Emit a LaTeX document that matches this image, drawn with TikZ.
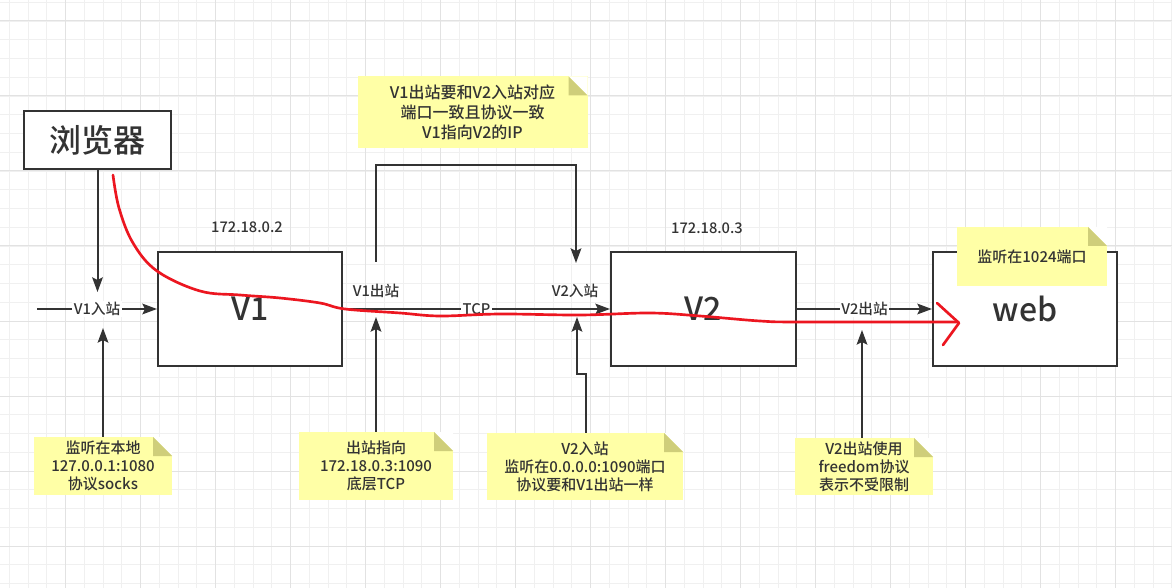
\documentclass[tikz,border=0pt]{standalone}
\usepackage{fontspec}
\setmainfont{Noto Sans CJK SC Medium}
\usepackage{tikz}
\usetikzlibrary{
  arrows.meta,
  positioning
}
\definecolor{InkGray}{RGB}{51, 51, 51}
\definecolor{NoteYellow}{RGB}{255, 255, 166}
\definecolor{NoteFold}{RGB}{207, 206, 122}
\definecolor{GridMinor}{RGB}{240, 240, 240}
\definecolor{GridMajor}{RGB}{226, 226, 226}
\definecolor{TraceRed}{RGB}{236, 22, 32}
\tikzset{
    hostbox/.style={draw=InkGray, fill=white, line width=1.5pt, text=InkGray, font=\fontsize{24}{28}\selectfont},
    notebox/.style={fill=NoteYellow, text=InkGray, align=center, inner sep=2pt,
        font=\fontsize{11.25}{13.5}\selectfont,
        path picture={
            \fill[white] ([xshift=-14.25pt]path picture bounding box.north east) -- (path picture bounding box.north east) -- ([yshift=-14.25pt]path picture bounding box.north east) -- cycle;
            \fill[NoteFold] ([xshift=-14.25pt]path picture bounding box.north east) -- ([xshift=-14.25pt, yshift=-14.25pt]path picture bounding box.north east) -- ([yshift=-14.25pt]path picture bounding box.north east) -- cycle;
        }},
    tag/.style={text=InkGray, inner sep=1pt, font=\fontsize{11}{13}\selectfont},
    linktag/.style={tag, fill=white},
    flow/.style={draw=InkGray, line width=1.5pt, -{Stealth[length=11pt, width=8pt, inset=2pt]}},
    trace/.style={draw=TraceRed, line width=2pt, line cap=round, line join=round}
}

\begin{document}
\begin{tikzpicture}[x=0.75pt, y=-0.75pt]
            \fill[white] (0,0) rectangle (1172,588);
            \useasboundingbox (0,0) rectangle (1172,588);
            \begin{scope}
                \clip (0,0) rectangle (1172,588);
                \begin{scope}[shift={(9.3,2.3)}]
                    \draw[GridMinor, line width=0.75pt, step=14.0625pt] (-40,620) grid (1200,-40);
                \end{scope}
                \begin{scope}[shift={(-9.3,21)}]
                    \draw[GridMajor, line width=0.75pt, step=56.25pt] (-40,620) grid (1200,-80);
                \end{scope}
            \end{scope}

            \node[hostbox, minimum width=110.25pt, minimum height=43.5pt] (browser) at (97.5,140) {浏览器};
            \node[hostbox, minimum width=138pt, minimum height=84.75pt] (v1) at (250,309) {V1};
            \node[hostbox, minimum width=138.75pt, minimum height=85.5pt] (v2) at (703.5,309) {V2};
            \node[hostbox, minimum width=138pt, minimum height=85.5pt] (web) at (1025,309) {web};

            \node[tag] (v1ip) at (247,227) {172.18.0.2};
            \node[tag] (v2ip) at (707,228) {172.18.0.3};
            \node[tag] (v1outLbl) at (376,291) {V1出站};
            \node[tag] (v2inLbl) at (575,291) {V2入站};

            \coordinate (v1inStart) at (37,309);
            \coordinate (browserTip) at (97.5,292);
            \coordinate (linkStart) at (376,262);
            \coordinate (linkTop) at (476,165);
            \coordinate (linkEnd) at (576,263);
            \coordinate (socksTip) at (103,328);
            \coordinate (v1outTip) at (376,317);
            \coordinate (v2inBend) at (577,374);
            \coordinate (v2inTip) at (577,317);
            \coordinate (v2outTip) at (862,330);

            \draw[flow] (v1inStart) -- node[linktag] {V1入站} (v1.west);
            \draw[flow] (v1.east) -- node[linktag] {TCP} (v2.west);
            \draw[flow] (v2.east) -- node[linktag] {V2出站} (web.west);
            \draw[flow] (browser.south) -- (browserTip);
            \draw[flow] (linkStart) |- (linkTop) -| (linkEnd);

            \node[notebox, minimum width=103.5pt, minimum height=43.5pt] (socksNote) at (103,466) {监听在本地\\127.0.0.1:1080\\协议socks};
            \node[notebox, minimum width=115.5pt, minimum height=51pt] (v1outNote) at (376,466) {出站指向\\172.18.0.3:1090\\底层TCP};
            \node[notebox, minimum width=147pt, minimum height=50.25pt] (v2inNote) at (585,466.5) {V2入站\\监听在0.0.0.0:1090端口\\协议要和V1出站一样};
            \node[notebox, minimum width=103.5pt, minimum height=42.75pt] (v2outNote) at (864,466.5) {V2出站使用\\freedom协议\\表示不受限制};
            \node[notebox, minimum width=172.5pt, minimum height=54pt, font=\fontsize{12}{15}\selectfont] (linkNote) at (472.5,112.5) {V1出站要和V2入站对应\\端口一致且协议一致\\V1指向V2的IP};
            \node[notebox, minimum width=112.5pt, minimum height=44.25pt] (webNote) at (1032,256.5) {监听在1024端口};

            \draw[flow] (socksNote.north -| socksTip) -- (socksTip);
            \draw[flow] (v1outNote.north) -- (v1outTip);
            \draw[flow] ([xshift=0.75pt]v2inNote.north) |- (v2inBend) -- (v2inTip);
            \draw[flow] (v2outNote.north -| v2outTip) -- (v2outTip);

            \draw[trace] plot[smooth, tension=0.6] coordinates {(113,175) (119,208) (133,243) (157,271) (200,291) (240,295) (280,298) (320,303) (345,309) (400,313) (440,316) (500,314) (580,315) (650,313) (700,316) (760,321) (800,322) (958,322)};
            \draw[trace] (937,303) -- (959,323) -- (943,345);
        \end{tikzpicture}
\end{document}
